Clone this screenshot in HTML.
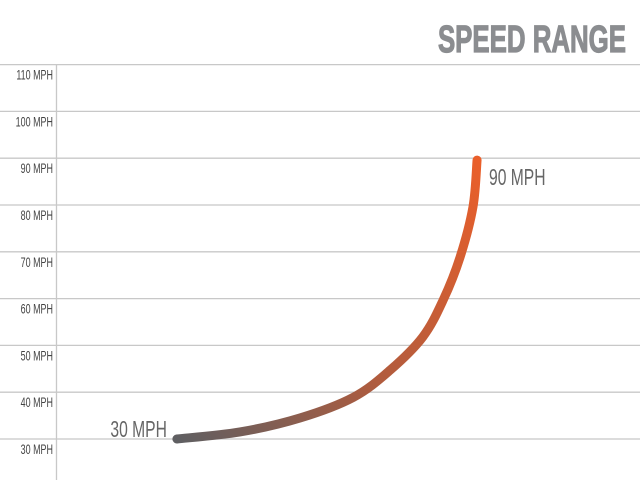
<!DOCTYPE html>
<html><head><meta charset="utf-8"><style>
html,body{margin:0;padding:0;background:#fff;}
svg{display:block;}
text{font-family:"Liberation Sans",sans-serif;}
</style></head><body>
<svg id="chart" width="640" height="480" viewBox="0 0 640 480">
<defs>
<linearGradient id="grad" gradientUnits="userSpaceOnUse" x1="177" y1="440" x2="478" y2="158">
<stop offset="0" stop-color="#5f5f62"/>
<stop offset="0.45" stop-color="#b05c3e"/>
<stop offset="1" stop-color="#ea5f2a"/>
</linearGradient>
</defs>
<text x="626" y="52" text-anchor="end" font-size="38" font-weight="bold" fill="#8b8d90" stroke="#8b8d90" stroke-width="1.2" transform="translate(626 0) scale(0.68 1) translate(-626 0)">SPEED RANGE</text>
<g id="grid"></g>
<g id="series"></g>
</svg>
<script>
const ticks = [30,40,50,60,70,80,90,100,110];
const tickLabels = ["30 MPH","40 MPH","50 MPH","60 MPH","70 MPH","80 MPH","90 MPH","100 MPH","110 MPH"];
const curveX = [20.7,31.5,41.8,50.9,57.2,62.8,66.3,69.2,71.4,72.1];
const curveSpeed = [30,31.5,34.5,38.9,44.7,51.8,59.7,68.9,79.6,89.6];
const endLabels = ["30 MPH","90 MPH"];

const NS="http://www.w3.org/2000/svg";
function yScale(v){return 439-(v-30)*4.68;}
function xScale(u){return 56+u*5.84;}
const grid=document.getElementById('grid');
ticks.forEach((t,i)=>{
  const y=yScale(t);
  const l=document.createElementNS(NS,'line');
  
  
  l.setAttribute('x1',0);l.setAttribute('x2',640);
  l.setAttribute('y1',y);l.setAttribute('y2',y);
  l.setAttribute('stroke','#c8c8c8');l.setAttribute('stroke-width','1.3');
  grid.appendChild(l);
  const tx=document.createElementNS(NS,'text');
  
  
  tx.setAttribute('x',53);tx.setAttribute('y',y+15);
  tx.setAttribute('text-anchor','end');tx.setAttribute('font-size','14');
  tx.setAttribute('fill','#444');
  tx.setAttribute('transform','translate(53 0) scale(0.64 1) translate(-53 0)');
  tx.textContent=tickLabels[i];
  grid.appendChild(tx);
});
const ax=document.createElementNS(NS,'line');


ax.setAttribute('x1',56.5);ax.setAttribute('x2',56.5);ax.setAttribute('y1',yScale(110));ax.setAttribute('y2',480);
ax.setAttribute('stroke','#c8c8c8');ax.setAttribute('stroke-width','1.3');
grid.appendChild(ax);

const pts=curveX.map((u,i)=>[xScale(u),yScale(curveSpeed[i])]);
let d='M'+pts[0][0]+','+pts[0][1];
for(let i=0;i<pts.length-1;i++){
  const p0=pts[Math.max(i-1,0)],p1=pts[i],p2=pts[i+1],p3=pts[Math.min(i+2,pts.length-1)];
  const c1=[p1[0]+(p2[0]-p0[0])/6,p1[1]+(p2[1]-p0[1])/6];
  const c2=[p2[0]-(p3[0]-p1[0])/6,p2[1]-(p3[1]-p1[1])/6];
  d+=' C'+c1+' '+c2+' '+p2;
}
const series=document.getElementById('series');
const path=document.createElementNS(NS,'path');


path.setAttribute('d',d);path.setAttribute('fill','none');
path.setAttribute('stroke','url(#grad)');path.setAttribute('stroke-width','9');
path.setAttribute('stroke-linecap','round');
series.appendChild(path);

const first=pts[0],last=pts[pts.length-1];
const l1=document.createElementNS(NS,'text');


l1.setAttribute('x',first[0]-10);l1.setAttribute('y',first[1]-2);
l1.setAttribute('text-anchor','end');l1.setAttribute('font-size','23');l1.setAttribute('fill','#666');
l1.setAttribute('transform','translate('+(first[0]-10)+' 0) scale(0.68 1) translate('+(-(first[0]-10))+' 0)');
l1.textContent=endLabels[0];
series.appendChild(l1);
const l2=document.createElementNS(NS,'text');


l2.setAttribute('x',last[0]+12);l2.setAttribute('y',last[1]+25);
l2.setAttribute('font-size','23');l2.setAttribute('fill','#666');
l2.setAttribute('transform','translate('+(last[0]+12)+' 0) scale(0.68 1) translate('+(-(last[0]+12))+' 0)');
l2.textContent=endLabels[1];
series.appendChild(l2);
</script>
</body></html>
